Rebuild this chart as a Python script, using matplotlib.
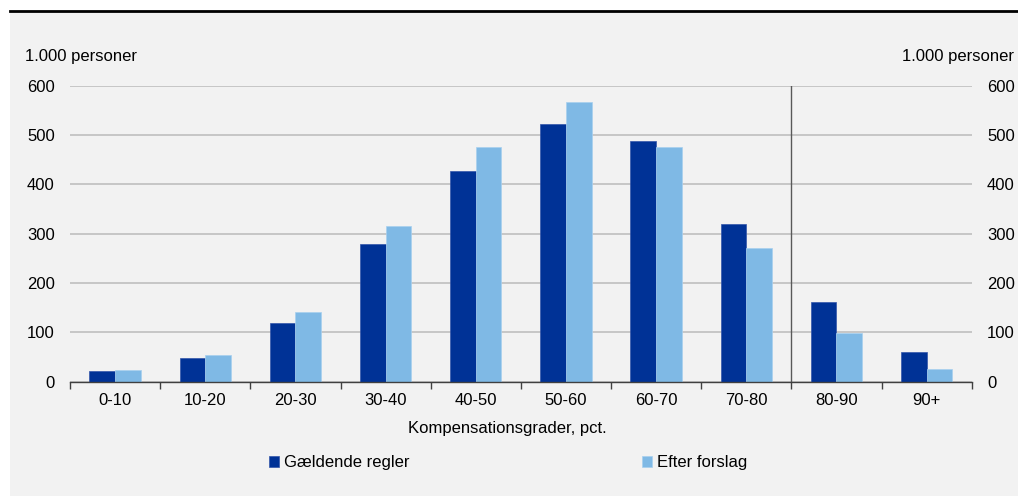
import matplotlib
matplotlib.use("Agg")
import matplotlib.pyplot as plt
from matplotlib.patches import Rectangle
from matplotlib.lines import Line2D
import numpy as np

# ── Data ──────────────────────────────────────────────────────────────────────
CATEGORIES = ["0-10", "10-20", "20-30", "30-40", "40-50",
              "50-60", "60-70", "70-80", "80-90", "90+"]
CURRENT = [22, 48, 118, 278, 426, 522, 488, 320, 161, 59]     # Gældende regler
PROPOSAL = [24, 53, 141, 316, 475, 567, 475, 271, 98, 26]     # Efter forslag

LABEL_CURRENT = "Gældende regler"
LABEL_PROPOSAL = "Efter forslag"
X_LABEL = "Kompensationsgrader, pct."
Y_UNIT = "1.000 personer"

DARK = "#003296"
LIGHT = "#7fb9e5"
BG = "#f2f2f2"

plt.rcParams["font.family"] = ["Liberation Sans", "DejaVu Sans"]
FS = 12

W, H = 1018, 496
fig = plt.figure(figsize=(W / 100, H / 100), dpi=100)
fig.patch.set_facecolor("white")

# grey panel + black rule on top (behind the axes)
fig.patches.append(Rectangle((10 / W, 0), 1, (H - 11) / H, transform=fig.transFigure,
                             facecolor=BG, edgecolor="none", zorder=-2))
fig.lines.append(Line2D([10 / W, 1], [(H - 11) / H] * 2, transform=fig.transFigure,
                        color="black", lw=2, zorder=-1))

ax = fig.add_axes([70 / W, (H - 381.5) / H, (971.7 - 70) / W, (381.5 - 85.7) / H])
ax.set_facecolor("none")

x = np.arange(len(CATEGORIES))
bw = 0.285
b1 = ax.bar(x - bw / 2, CURRENT, bw, color=DARK, edgecolor="#3355aa", linewidth=0.5, zorder=3)
b2 = ax.bar(x + bw / 2, PROPOSAL, bw, color=LIGHT, edgecolor="#a8d0ef", linewidth=0.5, zorder=3)

ax.set_xlim(-0.5, len(CATEGORIES) - 0.5)
ax.set_ylim(0, 600)
ax.set_yticks(range(0, 601, 100))
ax.yaxis.grid(True, color="#bfbfbf", lw=1.2, zorder=0)
ax.set_axisbelow(True)

for side in ["left", "right", "top"]:
    ax.spines[side].set_visible(False)
ax.spines["bottom"].set_color("#404040")
ax.spines["bottom"].set_linewidth(1)
ax.spines["bottom"].set_zorder(4)

ax.set_xticks(x)
ax.set_xticklabels(CATEGORIES, fontsize=FS)
ax.set_xticks(np.arange(-0.5, len(CATEGORIES)), minor=True)
ax.tick_params(axis="x", which="major", length=0, pad=8)
ax.tick_params(axis="x", which="minor", length=5, color="#404040", width=1)
ax.tick_params(axis="y", length=0, labelsize=FS, left=False, right=False,
               labelleft=True, labelright=True, pad=11)

# separator between 70-80 and 80-90
ax.axvline(7.5, color="#595959", lw=1, zorder=4)

fig.text(25 / W, (H - 57) / H, Y_UNIT, fontsize=FS, ha="left", va="center")
fig.text(1014 / W, (H - 57) / H, Y_UNIT, fontsize=FS, ha="right", va="center")
fig.text(507 / W, (H - 428) / H, X_LABEL, fontsize=FS, ha="center", va="center")

for handle, label, xpos in [(b1, LABEL_CURRENT, 269), (b2, LABEL_PROPOSAL, 642)]:
    fig.legend([handle], [label], loc="center left",
               bbox_to_anchor=(xpos / W, (H - 463) / H),
               frameon=False, fontsize=FS, borderpad=0, borderaxespad=0,
               handlelength=0.6, handleheight=0.6, handletextpad=0.3)

fig.savefig("out.png", dpi=100, facecolor=fig.get_facecolor())
